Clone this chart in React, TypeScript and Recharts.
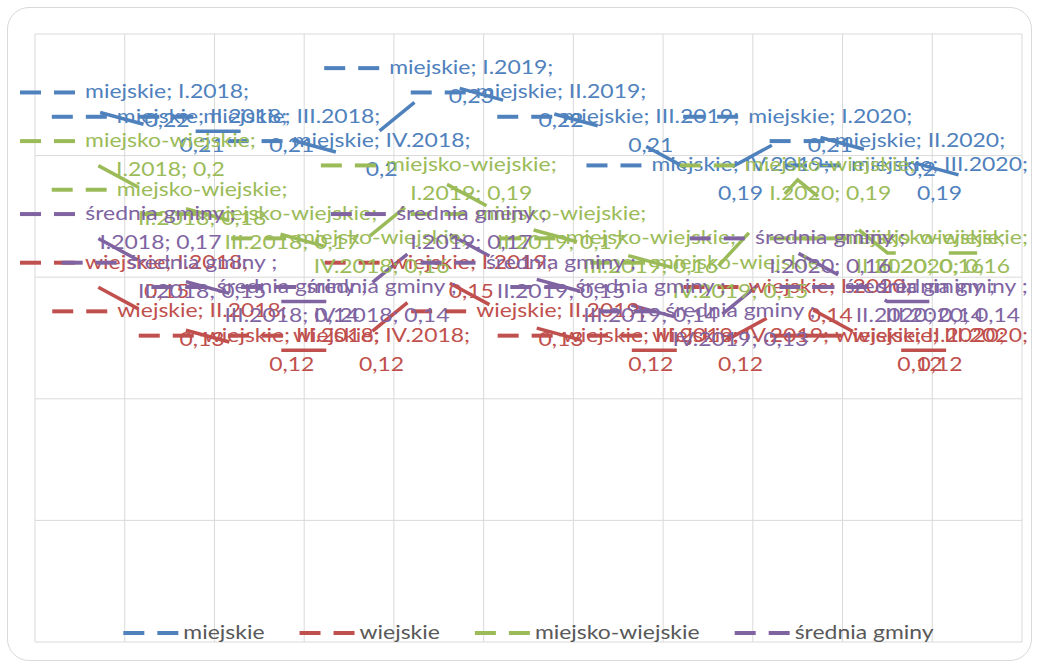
import React from 'react';
import { LineChart, Line, XAxis, YAxis, CartesianGrid, LabelList } from 'recharts';

// kwartały
const categories = ['I.2018', 'II.2018', 'III.2018', 'IV.2018', 'I.2019', 'II.2019', 'III.2019', 'IV.2019', 'I.2020', 'II.2020', 'III.2020'];

const miejskie = [0.22, 0.21, 0.21, 0.2, 0.23, 0.22, 0.21, 0.19, 0.21, 0.2, 0.19];
const wiejskie = [0.15, 0.13, 0.12, 0.12, 0.15, 0.13, 0.12, 0.12, 0.14, 0.12, 0.12];
const miejskoWiejskie = [0.2, 0.18, 0.17, 0.16, 0.19, 0.17, 0.16, 0.15, 0.19, 0.16, 0.16];
const sredniaGminy = [0.17, 0.15, 0.14, 0.14, 0.17, 0.15, 0.14, 0.13, 0.16, 0.14, 0.14];

const yTicks = [0, 0.05, 0.1, 0.15, 0.2, 0.25];

const series = [
  { key: 'miejskie', name: 'miejskie', label: 'miejskie', color: '#4F81BD', values: miejskie },
  { key: 'wiejskie', name: 'wiejskie', label: 'wiejskie', color: '#C0504D', values: wiejskie },
  { key: 'miejskoWiejskie', name: 'miejsko-wiejskie', label: 'miejsko-wiejskie', color: '#9BBB59', values: miejskoWiejskie },
  { key: 'sredniaGminy', name: 'średnia gminy', label: 'średnia gminy ', color: '#8064A2', values: sredniaGminy },
];

const data = categories.map((cat, i) => {
  const row: any = { cat };
  series.forEach((s) => (row[s.key] = s.values[i]));
  return row;
});

const FONT = 'Lato';
const FS = 18.5;
const SX = 1.24; // tekst w oryginale jest rozciągnięty w poziomie
const LH = 29;
const KEY_W = 65;
const WRAP = 205;
const MIN_L = 20;
const MAX_R = 1028;

let ctx: CanvasRenderingContext2D | null = null;
function textW(s: string) {
  if (!ctx) ctx = document.createElement('canvas').getContext('2d');
  ctx!.font = `${FS}px ${FONT}`;
  return ctx!.measureText(s).width * SX;
}

function fmt(v: number) {
  return String(Math.round(v * 100) / 100).replace('.', ',');
}

function wrap(text: string, max: number) {
  const words = text.split(' ');
  const lines: string[] = [];
  let cur = '';
  for (const w of words) {
    const t = cur ? cur + ' ' + w : w;
    if (cur && textW(t) > max) {
      lines.push(cur);
      cur = w;
    } else cur = t;
  }
  if (cur) lines.push(cur);
  return lines;
}

// pionowe linie siatki na granicach kategorii
const boundaryLines = ({ offset }: any) =>
  [...categories.map((_, i) => i), categories.length].map((i) => offset.left + (i * offset.width) / categories.length);

function Key({ x, y, color }: { x: number; y: number; color: string }) {
  return (
    <g stroke={color} strokeWidth={4}>
      <line x1={x} x2={x + 21} y1={y} y2={y} />
      <line x1={x + 34} x2={x + 55} y1={y} y2={y} />
    </g>
  );
}

function makeLabel(s: (typeof series)[number]) {
  return (props: any) => {
    const vb = props.viewBox || {};
    const px = props.x ?? vb.x;
    const py = props.y ?? vb.y;
    if (px == null || py == null) return null;
    const text = `${s.label}; ${categories[props.index]}; ${fmt(Number(props.value))}`;
    const lines = wrap(text, WRAP);
    const tw = Math.max(...lines.map(textW));
    const boxW = KEY_W + tw;
    let left = px - boxW / 2;
    left = Math.max(MIN_L, Math.min(MAX_R - boxW, left));
    const cx = left + KEY_W + tw / 2;
    const top = py - ((lines.length - 1) * LH) / 2;
    return (
      <g>
        <Key x={left} y={top} color={s.color} />
        {lines.map((ln, k) => (
          <text
            key={k}
            transform={`translate(${cx},${top + k * LH + 6}) scale(${SX},1)`}
            textAnchor="middle"
            fill={s.color}
            fontFamily={FONT}
            fontSize={FS}
          >
            {ln}
          </text>
        ))}
      </g>
    );
  };
}

function ChartLegend() {
  const items = series.map((s) => ({ ...s, w: textW(s.name) }));
  const gap = 35;
  const total = items.reduce((a, it) => a + 60 + it.w, 0) + gap * (items.length - 1);
  let x = 528.5 - total / 2;
  const out: React.ReactNode[] = [];
  items.forEach((it) => {
    out.push(
      <g key={it.key}>
        <Key x={x} y={633} color={it.color} />
        <text
          transform={`translate(${x + 60},${639}) scale(${SX},1)`}
          fill="#595959"
          fontFamily={FONT}
          fontSize={FS}
        >
          {it.name}
        </text>
      </g>
    );
    x += 60 + it.w + gap;
  });
  return (
    <svg width={1038} height={666} style={{ position: 'absolute', left: 0, top: 0, pointerEvents: 'none' }}>
      {out}
    </svg>
  );
}

export default function App() {
  return (
    <div style={{ position: 'absolute', left: 0, top: 0, width: 1038, height: 666, background: '#fff' }}>
      <div
        style={{
          position: 'absolute',
          left: 7,
          top: 7,
          width: 1025,
          height: 654,
          boxSizing: 'border-box',
          border: '1px solid #d9d9d9',
          borderRadius: 22,
        }}
      />
      <div style={{ position: 'absolute', left: 0, top: 0 }}>
        <LineChart width={1038} height={666} data={data} margin={{ top: 34, right: 16, bottom: 24, left: 35 }}>
          <CartesianGrid stroke="#d9d9d9" verticalCoordinatesGenerator={boundaryLines} />
          <XAxis dataKey="cat" scale="band" hide />
          <YAxis type="number" domain={[0, 0.25]} ticks={yTicks} allowDataOverflow hide />
          {series.map((s) => (
            <Line
              key={s.key}
              dataKey={s.key}
              name={s.name}
              stroke={s.color}
              strokeWidth={3.5}
              strokeDasharray="45 53"
              strokeDashoffset={77}
              dot={false}
              activeDot={false}
              isAnimationActive={false}
            >
              <LabelList dataKey={s.key} content={makeLabel(s)} />
            </Line>
          ))}
        </LineChart>
      </div>
      <ChartLegend />
    </div>
  );
}
